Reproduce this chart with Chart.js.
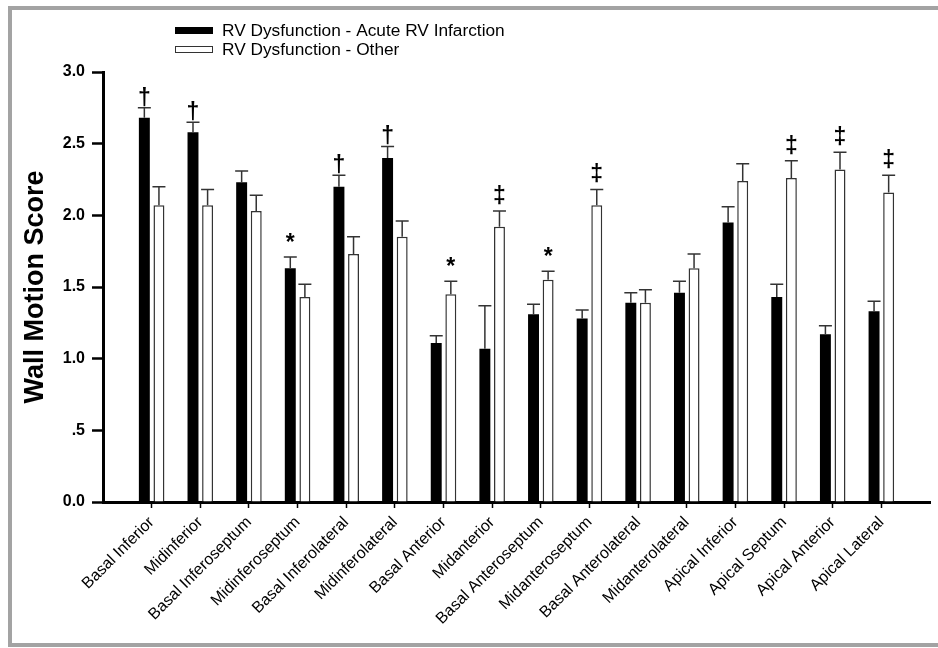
<!DOCTYPE html>
<html>
<head>
<meta charset="utf-8">
<script src="https://cdn.jsdelivr.net/npm/chart.js@4.4.1/dist/chart.umd.min.js"></script>
<style>
html, body { margin: 0; padding: 0; background: #fff; overflow: hidden; }
#frame { position: absolute; left: 8px; top: 6px; width: 1000px; height: 633px; border: 4px solid #a3a3a3; }
#wrap { position: absolute; left: 0; top: 0; width: 938px; height: 648px; }
</style>
</head>
<body>
<div id="frame"></div>
<div id="wrap"><canvas id="chart" width="938" height="648"></canvas></div>
<script>
// wall segments
const segments = ['Basal Inferior', 'Midinferior', 'Basal Inferoseptum', 'Midinferoseptum',
    'Basal Inferolateral', 'Midinferolateral', 'Basal Anterior', 'Midanterior',
    'Basal Anteroseptum', 'Midanteroseptum', 'Basal Anterolateral', 'Midanterolateral',
    'Apical Inferior', 'Apical Septum', 'Apical Anterior', 'Apical Lateral'];

const acuteValues = [2.68, 2.58, 2.23, 1.63, 2.20, 2.40, 1.11, 1.07, 1.31, 1.28, 1.39, 1.46, 1.95, 1.43, 1.17, 1.33];
const acuteErrors = [0.07, 0.07, 0.08, 0.08, 0.08, 0.08, 0.05, 0.30, 0.07, 0.06, 0.07, 0.08, 0.11, 0.09, 0.06, 0.07];
const acuteMarks  = ['†', '†', '', '*', '†', '†', '', '', '', '', '', '', '', '', '', ''];

const otherValues = [2.07, 2.07, 2.03, 1.43, 1.73, 1.85, 1.45, 1.92, 1.55, 2.07, 1.39, 1.63, 2.24, 2.26, 2.32, 2.16];
const otherErrors = [0.13, 0.11, 0.11, 0.09, 0.12, 0.11, 0.09, 0.11, 0.06, 0.11, 0.09, 0.10, 0.12, 0.12, 0.12, 0.12];
const otherMarks  = ['', '', '', '', '', '', '*', '‡', '*', '‡', '', '', '', '‡', '‡', '‡'];

const yTicks = [0, 0.5, 1.0, 1.5, 2.0, 2.5, 3.0];

const FONT = "'Liberation Sans', Arial, sans-serif";

// one empty slot on each side of the axis
const labels = [''].concat(segments, ['']);
function pad(arr) { return [null].concat(arr, [null]); }

// how far each mark sits below the cap (glyphs sit differently)
const markShift = { '†': 3, '‡': -2, '*': -1 };

// error bars + significance marks
const errorBars = {
    id: 'errorBars',
    afterDatasetsDraw(chart) {
        const ctx = chart.ctx;
        const yScale = chart.scales.y;
        chart.data.datasets.forEach(function(ds, di) {
            const meta = chart.getDatasetMeta(di);
            meta.data.forEach(function(bar, i) {
                const v = ds.data[i];
                if (v === null || v === undefined) return;
                const top = yScale.getPixelForValue(v + ds.errors[i]);
                ctx.save();
                ctx.strokeStyle = '#333';
                ctx.lineWidth = 1.5;
                ctx.beginPath();
                ctx.moveTo(bar.x, bar.y);
                ctx.lineTo(bar.x, top);
                ctx.moveTo(bar.x - 6.5, top);
                ctx.lineTo(bar.x + 6.5, top);
                ctx.stroke();
                const mark = ds.marks[i];
                if (mark) {
                    ctx.fillStyle = '#000';
                    ctx.font = 'bold 23px ' + FONT;
                    ctx.textAlign = 'center';
                    ctx.textBaseline = 'bottom';
                    ctx.fillText(mark, bar.x, top - 1 + markShift[mark]);
                }
                ctx.restore();
            });
        });
    }
};

// two-row legend at the top
const stackedLegend = {
    id: 'stackedLegend',
    afterDraw(chart) {
        const ctx = chart.ctx;
        chart.data.datasets.forEach(function(ds, di) {
            const y = 27 + di * 19;
            ctx.save();
            ctx.fillStyle = ds.backgroundColor;
            ctx.fillRect(175, y, 38, 7);
            if (di === 1) {
                ctx.strokeStyle = '#333';
                ctx.lineWidth = 1;
                ctx.strokeRect(175.5, y + 0.5, 37, 6);
            }
            ctx.fillStyle = '#000';
            ctx.font = '17.3px ' + FONT;
            ctx.textBaseline = 'middle';
            ctx.fillText(ds.label, 222, y + 4);
            ctx.restore();
        });
    }
};

const ctx = document.getElementById('chart').getContext('2d');

const chart = new Chart(ctx, {
    type: 'bar',
    data: {
        labels: labels,
        datasets: [{
            label: 'RV Dysfunction - Acute RV Infarction',
            data: pad(acuteValues),
            errors: pad(acuteErrors),
            marks: pad(acuteMarks),
            backgroundColor: '#000',
            borderWidth: 0
        }, {
            label: 'RV Dysfunction - Other',
            data: pad(otherValues),
            errors: pad(otherErrors),
            marks: pad(otherMarks),
            backgroundColor: '#fff',
            borderColor: '#333',
            borderWidth: 1.5
        }]
    },
    options: {
        responsive: false,
        animation: false,
        categoryPercentage: 0.6,
        barPercentage: 0.75,
        layout: { padding: { top: 72, right: 8, bottom: 0, left: 0 } },
        plugins: {
            legend: { display: false },
            tooltip: { enabled: false }
        },
        scales: {
            x: {
                offset: false,
                z: 1,
                grid: {
                    offset: false,
                    drawOnChartArea: false,
                    drawTicks: true,
                    tickLength: 6,
                    tickWidth: 1.5,
                    tickColor: function(c) {
                        return (c.index === 0 || c.index === labels.length - 1) ? 'rgba(0,0,0,0)' : '#000';
                    }
                },
                border: { display: true, color: '#000', width: 3 },
                ticks: {
                    autoSkip: false,
                    minRotation: 45,
                    maxRotation: 45,
                    padding: 5,
                    color: '#000',
                    font: { family: FONT, size: 16 }
                },
                afterFit: function(scale) {
                    scale.height = 146;
                    scale.paddingLeft = 0;
                    scale.paddingRight = 0;
                }
            },
            y: {
                min: 0,
                max: 3,
                z: 1,
                afterBuildTicks: function(scale) {
                    scale.ticks = yTicks.map(function(v) { return { value: v }; });
                },
                grid: {
                    drawOnChartArea: false,
                    drawTicks: true,
                    tickLength: 11,
                    tickWidth: 2.5,
                    tickColor: '#000'
                },
                border: { display: true, color: '#000', width: 3 },
                ticks: {
                    padding: 7,
                    color: '#000',
                    font: { family: FONT, size: 16, weight: 'bold' },
                    callback: function(v) { return v === 0.5 ? '.5' : v.toFixed(1); }
                },
                title: {
                    display: true,
                    text: 'Wall Motion Score',
                    color: '#000',
                    font: { family: FONT, size: 27, weight: 'bold' },
                    padding: { top: 19, bottom: 0 }
                },
                afterFit: function(scale) { scale.width = 103; }
            }
        }
    },
    plugins: [errorBars, stackedLegend]
});
</script>
</body>
</html>
